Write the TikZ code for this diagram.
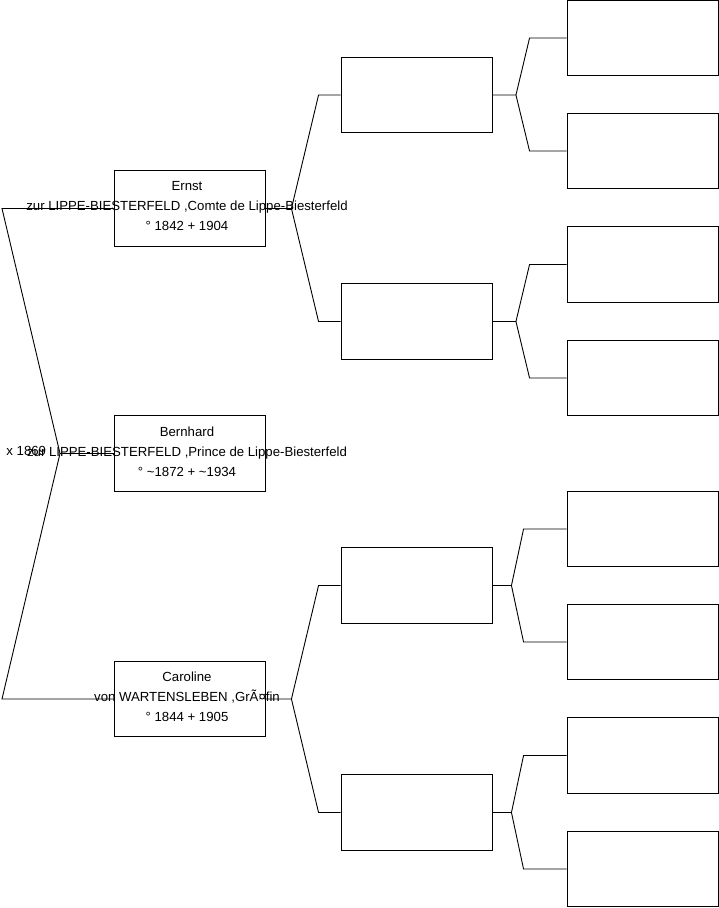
\documentclass[tikz,border=0pt]{standalone}
\usepackage{fontspec}
\setmainfont{Liberation Sans}
\begin{document}
\begin{tikzpicture}[x=1pt,y=-1pt,line width=0.9pt,
  pbox/.style={draw=black,line width=0.9pt,minimum width=151pt,minimum height=75.5pt,inner sep=0pt},
  ptext/.style={align=center,font=\fontsize{13.2pt}{20pt}\selectfont,inner sep=0pt},
  conn/.style={draw=black,line width=0.9pt}]
\useasboundingbox (0,0) rectangle (719,908);
% generation 1
\node[pbox] (E) at (189.5,208.5) {};
\node[pbox] (B) at (189.5,453.5) {};
\node[pbox] (C) at (189.5,699) {};
% generation 2
\node[pbox] (M1) at (416.5,95) {};
\node[pbox] (M2) at (416.5,321.5) {};
\node[pbox] (M3) at (416.5,585.5) {};
\node[pbox] (M4) at (416.5,812.5) {};
% generation 3
\node[pbox] (R1) at (642.5,38) {};
\node[pbox] (R2) at (642.5,151) {};
\node[pbox] (R3) at (642.5,264.5) {};
\node[pbox] (R4) at (642.5,378) {};
\node[pbox] (R5) at (642.5,529) {};
\node[pbox] (R6) at (642.5,642) {};
\node[pbox] (R7) at (642.5,755.5) {};
\node[pbox] (R8) at (642.5,869) {};
% left connectors
\coordinate (top) at (2,208.5);
\coordinate (mar) at (60,453.5);
\coordinate (bot) at (2,699);
\draw[conn] (E.west) -- (top) -- (mar) -- (bot) -- (C.west);
\draw[conn] (mar) -- (B.west);
% gen1 -> gen2
\draw[conn] (E.east) -- ++(26,0) coordinate (fE) -- ([xshift=-22pt]M1.west) -- (M1.west);
\draw[conn] (fE) -- ([xshift=-22pt]M2.west) -- (M2.west);
\draw[conn] (C.east) -- ++(26,0) coordinate (fC) -- ([xshift=-22pt]M3.west) -- (M3.west);
\draw[conn] (fC) -- ([xshift=-22pt]M4.west) -- (M4.west);
% gen2 -> gen3
\draw[conn] (M1.east) -- ++(23.5,0) coordinate (f1) -- ([xshift=-37pt]R1.west) -- (R1.west);
\draw[conn] (f1) -- ([xshift=-37pt]R2.west) -- (R2.west);
\draw[conn] (M2.east) -- ++(23.5,0) coordinate (f2) -- ([xshift=-37pt]R3.west) -- (R3.west);
\draw[conn] (f2) -- ([xshift=-37pt]R4.west) -- (R4.west);
\draw[conn] (M3.east) -- ++(19,0) coordinate (f3) -- ([xshift=-43pt]R5.west) -- (R5.west);
\draw[conn] (f3) -- ([xshift=-43pt]R6.west) -- (R6.west);
\draw[conn] (M4.east) -- ++(19,0) coordinate (f4) -- ([xshift=-43pt]R7.west) -- (R7.west);
\draw[conn] (f4) -- ([xshift=-43pt]R8.west) -- (R8.west);
% texts
\node[ptext] (tE) at ([shift={(-2.5,-2)}]E.center) {Ernst\\zur LIPPE-BIESTERFELD ,Comte de Lippe-Biesterfeld\\° 1842 + 1904};
\node[ptext] (tB) at ([shift={(-2.5,-2)}]B.center) {Bernhard\\zur LIPPE-BIESTERFELD ,Prince de Lippe-Biesterfeld\\° \textasciitilde1872 + \textasciitilde1934};
\node[ptext] (tC) at ([shift={(-2.5,-2)}]C.center) {Caroline\\von WARTENSLEBEN ,GrÃ¤fin\\° 1844 + 1905};
\node[ptext,anchor=west] (tM) at (6,450.5) {x 1869};
\end{tikzpicture}
\end{document}
